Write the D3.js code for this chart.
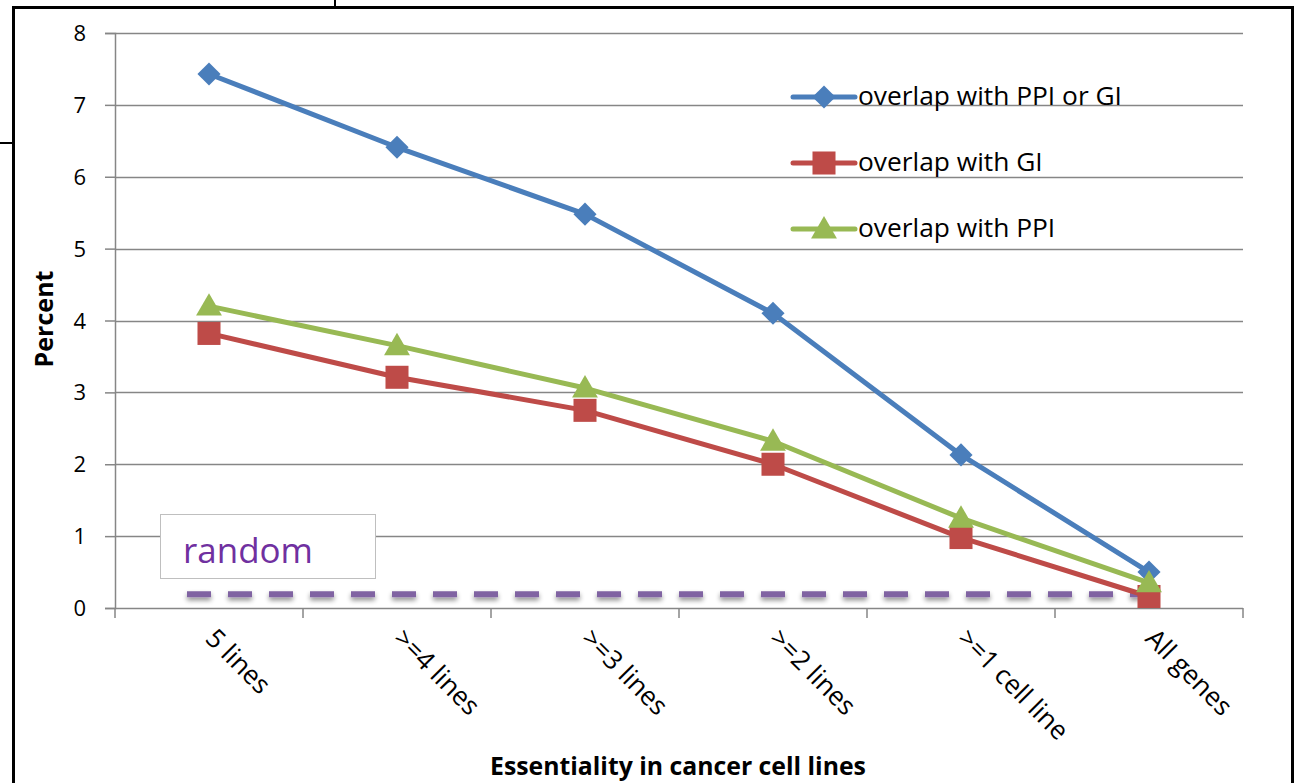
<!DOCTYPE html>
<html><head><meta charset="utf-8">
<script src="https://cdn.jsdelivr.net/npm/d3@7"></script>
<style>html,body{margin:0;padding:0;background:#fff;overflow:hidden}svg{display:block}</style>
</head><body>
<svg id="c" width="1295" height="783"></svg>
<script>
const categories = ["5 lines", ">=4 lines", ">=3 lines", ">=2 lines", ">=1 cell line", "All genes"];
const ppiOrGi = [7.43, 6.41, 5.48, 4.10, 2.13, 0.50];
const gi = [3.82, 3.21, 2.75, 2.00, 0.98, 0.16];
const ppi = [4.20, 3.65, 3.06, 2.32, 1.25, 0.35];
const randomLevel = 0.19;
const yTicks = [0, 1, 2, 3, 4, 5, 6, 7, 8];
const seriesNames = ["overlap with PPI or GI", "overlap with GI", "overlap with PPI"];
const seriesColors = ["#4A7EBB", "#BE4B48", "#98B954"];
const seriesMarkers = ["diamond", "square", "triangle"];

const FONT = "'Open Sans', Lato, sans-serif";
const svg = d3.select("#c");
const L = 115, R = 1243, T = 33, B = 608;

function fit(sel, target) {
  const w = sel.node().getComputedTextLength();
  const fs = parseFloat(sel.attr("font-size"));
  sel.attr("font-size", (fs * target / w).toFixed(2));
  return fs * target / w;
}

const x = d3.scaleBand().domain(categories).range([L, R]).paddingInner(0).paddingOuter(0);
const y = d3.scaleLinear().domain([0, 8]).range([B, T]);

// outer frame
svg.append("rect").attr("x", 13.5).attr("y", 7.5).attr("width", 1279).attr("height", 800)
  .attr("fill", "#fff").attr("stroke", "#000").attr("stroke-width", 3);
svg.append("line").attr("x1", 335).attr("x2", 335).attr("y1", 0).attr("y2", 7).attr("stroke", "#000").attr("stroke-width", 2);
svg.append("line").attr("x1", 0).attr("x2", 13).attr("y1", 143).attr("y2", 143).attr("stroke", "#000").attr("stroke-width", 2);

// gridlines
svg.append("g").selectAll("line").data(yTicks.filter(d => d > 0)).join("line")
  .attr("x1", L).attr("x2", R).attr("y1", d => Math.round(y(d)) + 0.5).attr("y2", d => Math.round(y(d)) + 0.5)
  .attr("stroke", "#868686").attr("stroke-width", 1.5);

// y axis
const yAxis = svg.append("g").attr("transform", `translate(${L},0)`)
  .call(d3.axisLeft(y).tickValues(yTicks).tickSize(10).tickFormat(""));
yAxis.select(".domain").attr("stroke", "#868686").attr("stroke-width", 1.5);
yAxis.selectAll(".tick line").attr("stroke", "#868686").attr("stroke-width", 1.5);
svg.append("g").selectAll("text").data(yTicks).join("text")
  .attr("x", 86).attr("y", d => y(d) + 8).attr("text-anchor", "end")
  .attr("font-family", FONT).attr("font-size", 22).attr("fill", "#000")
  .text(d => d3.format("d")(d));

// x axis
svg.append("line").attr("x1", L).attr("x2", R).attr("y1", B + 0.5).attr("y2", B + 0.5).attr("stroke", "#868686").attr("stroke-width", 1.5);
const bounds = categories.map(c => x(c)).concat([x.range()[1]]);
svg.append("g").selectAll("line").data(bounds).join("line")
  .attr("x1", d => d).attr("x2", d => d).attr("y1", B).attr("y2", B + 10)
  .attr("stroke", "#868686").attr("stroke-width", 1.5);

// legend texts
const legY = [97, 163, 229];
const lg = svg.append("g");
const legTexts = seriesNames.map((n, i) => lg.append("text").attr("x", 858).attr("y", legY[i] + 8)
  .attr("font-family", FONT).attr("font-size", 22).attr("fill", "#000").text(n));
const legFs = fit(legTexts[0], 264);
legTexts.forEach(t => t.attr("font-size", legFs.toFixed(2)));

svg.append("g").selectAll("text").data(categories).join("text")
  .attr("transform", d => `translate(${x(d) + x.bandwidth() / 2 - 5},${B + 32}) rotate(45)`)
  .attr("font-family", FONT).attr("font-size", legFs.toFixed(2)).attr("fill", "#000")
  .text(d => d);

// axis titles
const xt = svg.append("text").attr("x", 678).attr("y", 775).attr("text-anchor", "middle")
  .attr("font-family", FONT).attr("font-weight", "bold").attr("font-size", 22).text("Essentiality in cancer cell lines");
fit(xt, 376);
const yt = svg.append("text").attr("transform", "translate(53,319) rotate(-90)").attr("text-anchor", "middle")
  .attr("font-family", FONT).attr("font-weight", "bold").attr("font-size", 22).text("Percent");
fit(yt, 97);

// random box
svg.append("rect").attr("x", 160.5).attr("y", 514.5).attr("width", 215).attr("height", 64)
  .attr("fill", "#fff").attr("stroke", "#BFBFBF").attr("stroke-width", 1);
const rt = svg.append("text").attr("x", 183).attr("y", 563).attr("font-family", FONT).attr("font-size", 30)
  .attr("fill", "#7030A0").text("random");
fit(rt, 130);

// random dashed line with shadow
const defs = svg.append("defs");
const f = defs.append("filter").attr("id", "sh").attr("filterUnits", "userSpaceOnUse")
  .attr("x", 150).attr("y", 570).attr("width", 1050).attr("height", 50);
f.append("feGaussianBlur").attr("in", "SourceAlpha").attr("stdDeviation", 2.5).attr("result", "b");
f.append("feOffset").attr("in", "b").attr("dx", 0).attr("dy", 3).attr("result", "o");
f.append("feComponentTransfer").attr("in", "o").attr("result", "s")
  .append("feFuncA").attr("type", "linear").attr("slope", 0.45);
const fm = f.append("feMerge");
fm.append("feMergeNode").attr("in", "s");
fm.append("feMergeNode").attr("in", "SourceGraphic");
svg.append("line").attr("x1", 187).attr("x2", 1142).attr("y1", y(randomLevel)).attr("y2", y(randomLevel))
  .attr("stroke", "#8064A2").attr("stroke-width", 6).attr("stroke-dasharray", "24 17").attr("filter", "url(#sh)");

// series
const allSeries = [ppiOrGi, gi, ppi];
const line = d3.line().x((d, i) => x(categories[i]) + x.bandwidth() / 2).y(d => y(d));
function markerPath(type) {
  if (type === "diamond") return d3.symbol().type(d3.symbolDiamond2).size(340)();
  if (type === "square") return d3.symbol().type(d3.symbolSquare).size(530)();
  return d3.symbol().type(d3.symbolTriangle).size(290)();
}
[0, 1, 2].forEach(si => {
  const g = svg.append("g");
  g.append("path").datum(allSeries[si]).attr("d", line).attr("fill", "none")
    .attr("stroke", seriesColors[si]).attr("stroke-width", 5).attr("stroke-linejoin", "round");
  g.selectAll("path.m").data(allSeries[si]).join("path").attr("class", "m")
    .attr("transform", (d, i) => `translate(${x(categories[i]) + x.bandwidth() / 2},${y(d) + (seriesMarkers[si] === "triangle" ? 2 : 0)})`)
    .attr("d", markerPath(seriesMarkers[si])).attr("fill", seriesColors[si]);
});

// legend samples
seriesNames.forEach((n, i) => {
  lg.insert("line", "text").attr("x1", 793).attr("x2", 855).attr("y1", legY[i]).attr("y2", legY[i])
    .attr("stroke", seriesColors[i]).attr("stroke-width", 5).attr("stroke-linecap", "round");
  lg.insert("path", "text").attr("transform", `translate(824,${legY[i] + (seriesMarkers[i] === "triangle" ? 2 : 0)})`)
    .attr("d", markerPath(seriesMarkers[i])).attr("fill", seriesColors[i]);
});
svg.node().appendChild(lg.node());
</script>
</body></html>
